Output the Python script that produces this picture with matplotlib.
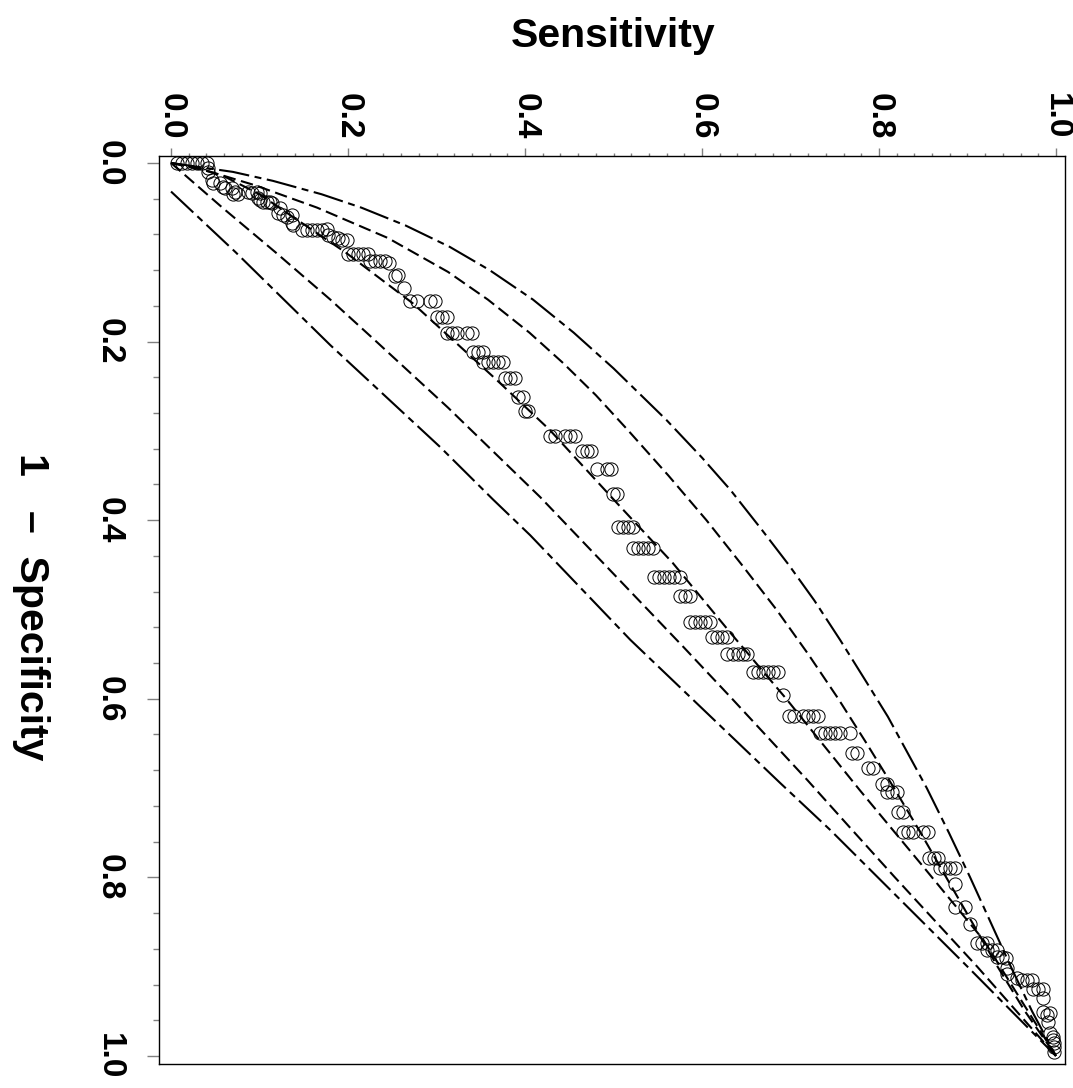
import matplotlib
matplotlib.use('Agg')
import matplotlib.pyplot as plt
from matplotlib.ticker import MultipleLocator, FormatStrFormatter

roc_fpr = [0.0, 0.0, 0.0, 0.0, 0.0, 0.0, 0.0,
           0.006, 0.010, 0.019, 0.022,
           0.022, 0.027, 0.028,
           0.028, 0.032, 0.035, 0.035,
           0.032, 0.034, 0.032, 0.034,
           0.039, 0.041, 0.044, 0.044, 0.044, 0.045,
           0.050, 0.056, 0.058, 0.060, 0.058, 0.067, 0.069,
           0.075, 0.075, 0.075, 0.075, 0.075, 0.074,
           0.081, 0.083, 0.084, 0.086, 0.086,
           0.102, 0.102, 0.102, 0.102, 0.102,
           0.110, 0.110, 0.110, 0.110, 0.112,
           0.127, 0.125, 0.140,
           0.155, 0.155, 0.155, 0.155,
           0.172, 0.172, 0.172,
           0.190, 0.190, 0.190, 0.190, 0.190,
           0.212, 0.212, 0.212,
           0.223, 0.223, 0.223, 0.223, 0.223,
           0.241, 0.241, 0.241,
           0.262, 0.262, 0.278, 0.278,
           0.306, 0.306, 0.306, 0.306, 0.306,
           0.323, 0.323, 0.323,
           0.343, 0.343, 0.343,
           0.371, 0.371,
           0.408, 0.408, 0.408, 0.408,
           0.431, 0.431, 0.431, 0.431, 0.431,
           0.464, 0.464, 0.464, 0.464, 0.464, 0.464,
           0.485, 0.485, 0.485,
           0.514, 0.514, 0.514, 0.514, 0.514,
           0.531, 0.531, 0.531, 0.531,
           0.550, 0.550, 0.550, 0.550, 0.550,
           0.570, 0.570, 0.570, 0.570, 0.570, 0.570,
           0.596,
           0.619, 0.619, 0.619, 0.619, 0.619, 0.619,
           0.638, 0.638, 0.638, 0.638, 0.638, 0.638,
           0.661, 0.661, 0.677, 0.677,
           0.695, 0.695, 0.704, 0.704, 0.704,
           0.727, 0.727,
           0.749, 0.749, 0.749, 0.749, 0.749,
           0.778, 0.778, 0.778,
           0.789, 0.789, 0.789, 0.789,
           0.807, 0.833, 0.833, 0.852,
           0.873, 0.873, 0.873,
           0.881, 0.881, 0.881,
           0.889, 0.889, 0.890, 0.901, 0.908,
           0.913, 0.915, 0.915, 0.915,
           0.925, 0.925, 0.925, 0.935,
           0.951, 0.954, 0.952, 0.962,
           0.974, 0.979, 0.982, 0.985, 0.990, 0.996]
roc_sens = [0.007, 0.012, 0.018, 0.024, 0.029, 0.035, 0.041,
            0.042, 0.042, 0.046, 0.047,
            0.055, 0.059, 0.061,
            0.069, 0.072, 0.076, 0.070,
            0.087, 0.092, 0.097, 0.101,
            0.098, 0.101, 0.104, 0.108, 0.112, 0.114,
            0.123, 0.121, 0.127, 0.131, 0.137, 0.137, 0.138,
            0.148, 0.154, 0.159, 0.165, 0.171, 0.176,
            0.177, 0.183, 0.189, 0.193, 0.199,
            0.200, 0.206, 0.211, 0.217, 0.223,
            0.225, 0.231, 0.236, 0.242, 0.246,
            0.253, 0.256, 0.263,
            0.270, 0.278, 0.293, 0.298,
            0.301, 0.306, 0.312,
            0.312, 0.318, 0.323, 0.334, 0.340,
            0.341, 0.347, 0.353,
            0.353, 0.358, 0.364, 0.369, 0.375,
            0.377, 0.383, 0.389,
            0.392, 0.398, 0.400, 0.403,
            0.428, 0.434, 0.445, 0.451, 0.456,
            0.464, 0.470, 0.475,
            0.481, 0.493, 0.497,
            0.499, 0.504,
            0.505, 0.511, 0.516, 0.522,
            0.522, 0.528, 0.533, 0.539, 0.545,
            0.546, 0.551, 0.557, 0.563, 0.568, 0.575,
            0.575, 0.581, 0.586,
            0.586, 0.592, 0.598, 0.603, 0.609,
            0.611, 0.617, 0.623, 0.628,
            0.628, 0.635, 0.641, 0.646, 0.651,
            0.658, 0.663, 0.669, 0.675, 0.680, 0.686,
            0.692,
            0.698, 0.704, 0.714, 0.720, 0.725, 0.731,
            0.733, 0.739, 0.745, 0.750, 0.756, 0.767,
            0.769, 0.775, 0.788, 0.793,
            0.803, 0.809, 0.809, 0.815, 0.820,
            0.821, 0.827,
            0.827, 0.833, 0.838, 0.850, 0.855,
            0.856, 0.862, 0.867,
            0.869, 0.875, 0.880, 0.886,
            0.886, 0.886, 0.897, 0.903,
            0.911, 0.916, 0.922,
            0.922, 0.928, 0.933,
            0.933, 0.939, 0.944, 0.945, 0.945,
            0.956, 0.962, 0.967, 0.973,
            0.974, 0.980, 0.985, 0.985,
            0.985, 0.990, 0.993, 0.991,
            0.993, 0.997, 0.997, 0.998, 0.998, 0.998]

# fitted curve and confidence bands
fit_fpr = [0.0, 0.004, 0.015, 0.035, 0.066, 0.10, 0.157, 0.243, 0.299, 0.381, 0.448,
           0.526, 0.601, 0.702, 0.788, 0.870, 1.0]
fit_sens = [0.0, 0.025, 0.060, 0.100, 0.146, 0.197, 0.273, 0.368, 0.428, 0.504, 0.567,
            0.632, 0.696, 0.778, 0.850, 0.918, 1.0]

inner_lo_fpr = [0.0, 0.05, 0.10, 0.153, 0.20, 0.274, 0.374, 0.458, 0.542, 0.60, 0.691, 0.744, 0.80, 0.90, 1.0]
inner_lo_sens = [0.0, 0.058, 0.118, 0.180, 0.232, 0.313, 0.417, 0.498, 0.579, 0.634, 0.719, 0.767, 0.818, 0.911, 1.0]

outer_lo_fpr = [0.032, 0.10, 0.204, 0.318, 0.377, 0.417, 0.534, 0.694, 0.747, 0.90, 1.0]
outer_lo_sens = [0.0, 0.073, 0.180, 0.304, 0.364, 0.406, 0.519, 0.688, 0.745, 0.90, 1.0]

inner_hi_fpr = [0.0, 0.01, 0.025, 0.05, 0.084, 0.122, 0.153, 0.19, 0.224, 0.26, 0.30, 0.35,
                0.40, 0.45, 0.50, 0.55, 0.60, 0.65, 0.70, 0.75, 0.80, 0.85, 0.90, 0.95, 1.0]
inner_hi_sens = [0.0, 0.045, 0.095, 0.165, 0.245, 0.313, 0.358, 0.405, 0.443, 0.48, 0.517, 0.562,
                 0.605, 0.645, 0.684, 0.72, 0.754, 0.786, 0.817, 0.847, 0.876, 0.905, 0.934, 0.965, 1.0]

outer_hi_fpr = [0.0, 0.01, 0.02, 0.035, 0.05, 0.07, 0.094, 0.12, 0.153, 0.19, 0.23, 0.288, 0.33,
                0.366, 0.41, 0.45, 0.49, 0.534, 0.58, 0.62, 0.66, 0.70, 0.75, 0.80, 0.85, 0.90, 0.95, 1.0]
outer_hi_sens = [0.0, 0.07, 0.115, 0.17, 0.215, 0.265, 0.315, 0.36, 0.409, 0.455, 0.50, 0.56, 0.60,
                 0.632, 0.667, 0.698, 0.727, 0.756, 0.785, 0.81, 0.832, 0.854, 0.879, 0.903, 0.926, 0.949, 0.973, 1.0]

tick_labels_fmt = '%.1f'

plt.rcParams['font.family'] = ['Liberation Sans', 'DejaVu Sans']
plt.rcParams['font.weight'] = 'bold'
plt.rcParams['lines.scale_dashes'] = False

W, H = 1073, 1088
fig = plt.figure(figsize=(W / 100, H / 100), dpi=100)
# the chart is drawn turned a quarter clockwise: sensitivity runs along the top,
# 1 - specificity runs down the left side
ax = fig.add_axes([159 / W, 1 - 1064 / H, (1065 - 159) / W, (1064 - 156) / H])

dash = (9, 4)
longdash = (22, 4, 5, 4)
ax.plot(outer_lo_sens, outer_lo_fpr, color='black', lw=1.5, dashes=longdash)
ax.plot(outer_hi_sens, outer_hi_fpr, color='black', lw=1.5, dashes=longdash)
ax.plot(inner_lo_sens, inner_lo_fpr, color='black', lw=1.5, dashes=dash)
ax.plot(inner_hi_sens, inner_hi_fpr, color='black', lw=1.5, dashes=dash)
ax.plot(fit_sens, fit_fpr, color='black', lw=1.5, dashes=dash)
ax.plot(roc_sens, roc_fpr, linestyle='none', marker='o', markersize=9.5,
        markerfacecolor='none', markeredgecolor='black', markeredgewidth=0.7)

ax.set_xlim(-0.0136, 1.0102)
ax.set_ylim(1.009, -0.0078)

ax.xaxis.tick_top()
ax.xaxis.set_major_locator(MultipleLocator(0.2))
ax.xaxis.set_minor_locator(MultipleLocator(0.02))
ax.yaxis.set_major_locator(MultipleLocator(0.2))
ax.yaxis.set_minor_locator(MultipleLocator(0.04))
ax.xaxis.set_major_formatter(FormatStrFormatter(tick_labels_fmt))
ax.yaxis.set_major_formatter(FormatStrFormatter(tick_labels_fmt))

ax.tick_params(axis='x', which='major', length=5.8, width=1, color='0.5',
               pad=6, labelsize=24, labelrotation=-90)
ax.tick_params(axis='x', which='minor', length=2.5, width=1, color='0.5')
ax.tick_params(axis='y', which='major', length=8.6, width=1, color='0.5',
               pad=16, labelsize=24, labelrotation=-90)
ax.tick_params(axis='y', which='minor', length=4.3, width=1, color='0.5')
for lab in ax.get_yticklabels():
    lab.set_va('center')

for sp in ax.spines.values():
    sp.set_linewidth(1.0)

fig.text(613 / W, 1 - 36 / H, 'Sensitivity', fontsize=29.5, fontweight='bold',
         ha='center', va='center')
fig.text(31 / W, 1 - 607 / H, '1   \u2013  Specificity', fontsize=29.5, fontweight='bold',
         ha='center', va='center', rotation=-90)

fig.savefig('out.png', dpi=100)
